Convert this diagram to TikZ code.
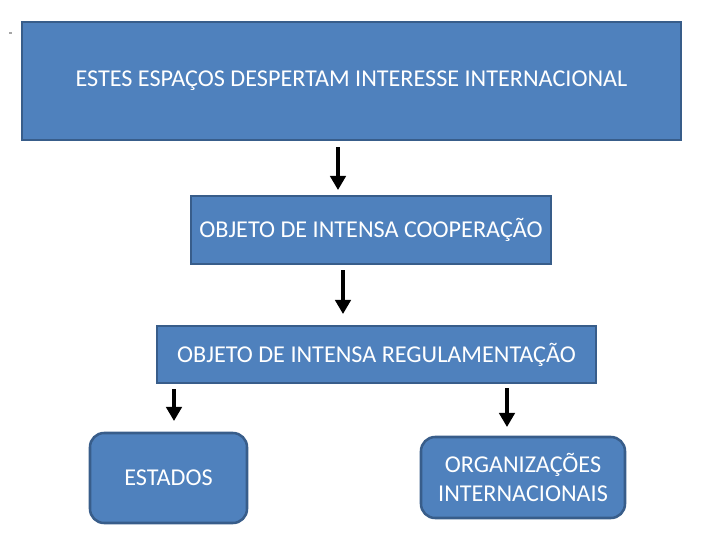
\documentclass[tikz,border=0pt]{standalone}
\usepackage{fontspec}
\setmainfont{Carlito}
\usetikzlibrary{arrows.meta}
\definecolor{boxfill}{HTML}{4F81BD}
\definecolor{boxline}{HTML}{385D8A}
\tikzset{
	box/.style = {rectangle, fill = boxfill, draw = boxline, line width = 1.8pt, text = white, inner sep = 0pt, align = center, font = \fontsize{17.2}{21}\selectfont},
	roundbox/.style = {box, rounded corners = 10pt},
	down/.style = {line width = 2.2pt, -{Triangle[width = 11pt, length = 10pt]}}
}
\begin{document}
\begin{tikzpicture}
	\useasboundingbox (0, 0) rectangle (18, -13.5);
	\fill [gray!70] (0.22, -0.8) rectangle (0.29, -0.86);

	\node [box, minimum width = 16.475cm, minimum height = 2.95cm] (top) at (8.7875, -2.025) {ESTES ESPAÇOS DESPERTAM INTERESSE INTERNACIONAL};
	\node [box, minimum width = 9cm, minimum height = 1.7cm] (coop) at (9.275, -5.75) {OBJETO DE INTENSA COOPERAÇÃO};
	\node [box, minimum width = 10.975cm, minimum height = 1.425cm] (regul) at (9.4125, -8.8625) {OBJETO DE INTENSA REGULAMENTAÇÃO};
	\node [roundbox, minimum width = 3.925cm, minimum height = 2.25cm] (estados) at (4.2125, -11.95) {ESTADOS};
	\node [roundbox, minimum width = 5.1cm, minimum height = 2.025cm] (orgs) at (13.075, -11.9375) {ORGANIZAÇÕES\\INTERNACIONAIS};

	\coordinate (a1) at (8.45, -3.675);
	\coordinate (b1) at (8.45, -4.75);
	\coordinate (a2) at (8.575, -6.75);
	\coordinate (b2) at (8.575, -7.85);
	\coordinate (a3) at (4.35, -9.725);
	\coordinate (b3) at (4.35, -10.525);
	\coordinate (a4) at (12.675, -9.7);
	\coordinate (b4) at (12.675, -10.675);

	\draw [down] (a1) -- (b1);
	\draw [down] (a2) -- (b2);
	\draw [down] (a3) -- (b3);
	\draw [down] (a4) -- (b4);
\end{tikzpicture}
\end{document}
